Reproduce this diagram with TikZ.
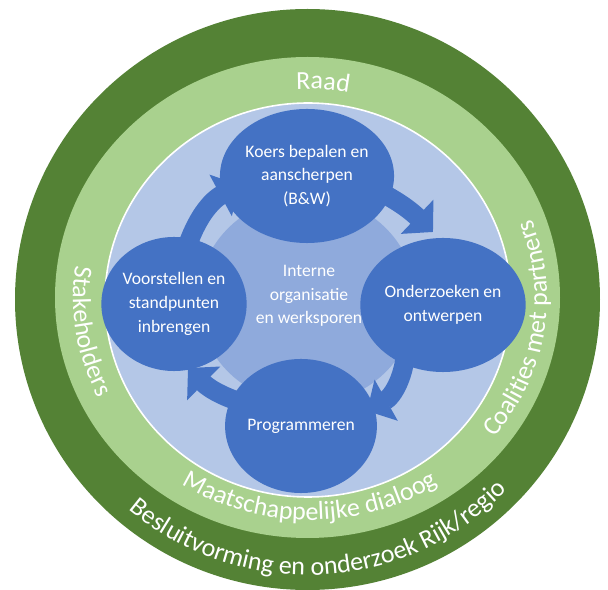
\documentclass[tikz,border=0pt]{standalone}
\usepackage{fontspec}
\setmainfont{Carlito}
\usetikzlibrary{arrows.meta,shapes.geometric,decorations.text}
\definecolor{ringdark}{HTML}{548235}
\definecolor{ringlight}{HTML}{A9D18E}
\definecolor{disclight}{HTML}{B4C7E7}
\definecolor{discmid}{HTML}{8FAADC}
\definecolor{stageblue}{HTML}{4472C4}
\pgfdeclarelayer{rings}
\pgfdeclarelayer{flow}
\pgfsetlayers{rings,flow,main}
\newcommand{\ringfont}{\fontsize{18.5}{22}\selectfont}
\newcommand{\stagefont}{\fontsize{12.5}{16.8}\selectfont}

\begin{document}
\begin{tikzpicture}[x=0.025cm,y=0.025cm,
	stage/.style={ellipse,fill=stageblue,text=white,minimum width=3.55cm,minimum height=3.35cm,inner sep=0pt,align=center,font=\stagefont},
	cyclearrow/.style={draw=stageblue,line width=0.48cm,-{Triangle[width=1.15cm,length=0.55cm]}},
	ringtext/.style={decorate,decoration={text along path,text align=center,text color=white,text={|\ringfont|#1}}}]
	\useasboundingbox (0,0) rectangle (608,-590);
	% the four stages
	\node[stage] (koers) at (307,-176) {Koers bepalen en\\aanscherpen\\(B\&W)};
	\node[stage] (onderzoek) at (443,-305) {Onderzoeken en\\ontwerpen};
	\node[stage] (program) at (301,-426) {Programmeren};
	\node[stage] (voorstel) at (174,-304) {Voorstellen en\\standpunten\\inbrengen};
	\node[text=white,align=center,font=\stagefont] (intern) at (309,-296) {Interne\\organisatie\\en werksporen};
	% arrow ends
	\coordinate (ultail) at (186,-250);
	\coordinate (ultip) at (240,-185);
	\coordinate (urtail) at (355,-180);
	\coordinate (urtip) at (433,-232);
	\coordinate (lrtail) at (406,-345);
	\coordinate (lrtip) at (367,-411);
	\coordinate (lltail) at (257,-407);
	\coordinate (lltip) at (188,-368);
	\begin{pgfonlayer}{flow}
	\draw[cyclearrow] (ultail) to[bend left=22] (ultip);
	\draw[cyclearrow] (urtail) to[bend left=10] (urtip);
	\draw[cyclearrow] (lrtail) to[bend left=30] (lrtip);
	\draw[cyclearrow] (lltail) to[bend left=15] (lltip);
	\end{pgfonlayer}
	\begin{pgfonlayer}{rings}
	\fill[ringdark] (307.5,-299.5) ellipse [x radius=292.5,y radius=290.5];
	\fill[ringlight] (307.5,-297.5) ellipse [x radius=252.5,y radius=240.5];
	\filldraw[fill=disclight,draw=white,line width=0.04cm] (308,-300) ellipse [x radius=203,y radius=197];
	\fill[discmid] (307,-300) ellipse [x radius=109,y radius=104];
	% ring labels
	\path[ringtext=Raad] (307.5,-298) ++(116:220 and 209) arc[start angle=116,end angle=56,x radius=220,y radius=209];
	\path[ringtext=Stakeholders] (310,-298) ++(151:237 and 222) arc[start angle=151,end angle=227,x radius=237,y radius=222];
	\path[ringtext=Coalities met partners] (310,-298) ++(-48:237 and 222) arc[start angle=-48,end angle=30,x radius=237,y radius=222];
	\path[ringtext=Maatschappelijke dialoog] (310,-298) ++(215:237 and 222) arc[start angle=215,end angle=325,x radius=237,y radius=222];
	\path[ringtext=Besluitvorming en onderzoek Rijk/regio] (307.5,-298) ++(203:277) arc[start angle=203,end angle=343,radius=277];
	\end{pgfonlayer}
\end{tikzpicture}
\end{document}
